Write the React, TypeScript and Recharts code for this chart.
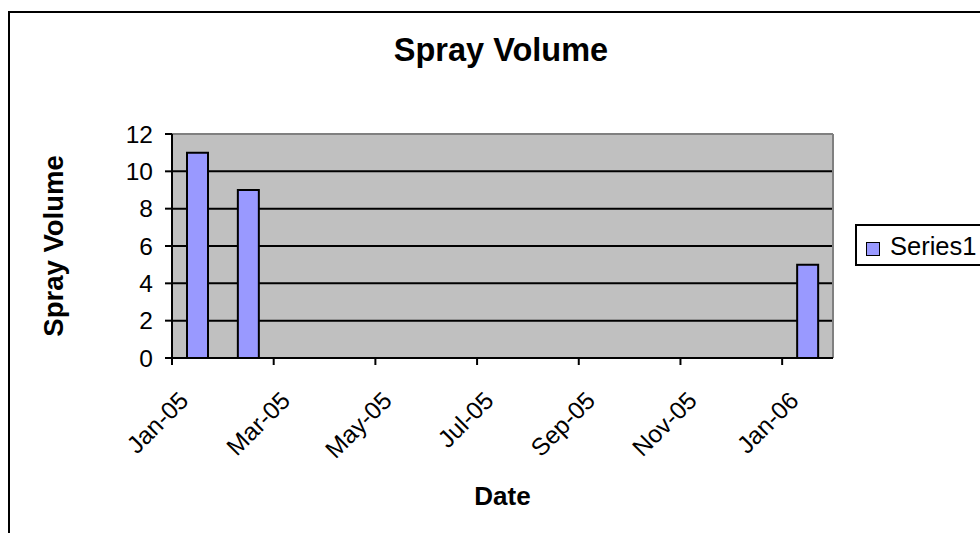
import React from 'react';
import { BarChart, Bar, XAxis, YAxis, CartesianGrid, Legend, ReferenceLine, Label } from 'recharts';

const FONT = '"Liberation Sans", Arial, sans-serif';

const months = ['Jan-05', 'Feb-05', 'Mar-05', 'Apr-05', 'May-05', 'Jun-05', 'Jul-05', 'Aug-05', 'Sep-05', 'Oct-05', 'Nov-05', 'Dec-05', 'Jan-06'];
const sprayDates = ['Jan-05', 'Feb-05', 'Jan-06'];
const sprayVolumes = [11, 9, 5];
const xTickMonths = ['Jan-05', 'Mar-05', 'May-05', 'Jul-05', 'Sep-05', 'Nov-05', 'Jan-06'];
const yTicks = [0, 2, 4, 6, 8, 10, 12];
const gridValues = [2, 4, 6, 8, 10];

const data = sprayDates.map((d, i) => ({ pos: months.indexOf(d) + 0.5, value: sprayVolumes[i] }));
const xTicks = xTickMonths.map((m) => months.indexOf(m));

const XTick = (props: any) => {
  const { x, y, payload } = props;
  const ax = x + 18;
  const ay = y + 35;
  return (
    <text x={ax} y={ay} transform={`rotate(-45, ${ax}, ${ay})`} textAnchor="end" fontSize={24.5} fontFamily={FONT} fill="#000">
      {months[payload.value]}
    </text>
  );
};

const LegendBox = (props: any) => {
  const item = (props.payload || [])[0];
  return (
    <div style={{ position: 'relative', boxSizing: 'border-box', width: 160, height: 42, border: '2px solid #000', background: '#fff', fontFamily: FONT }}>
      <span style={{ position: 'absolute', left: 9, top: 16, width: 14, height: 14, boxSizing: 'border-box', background: '#9999FF', border: '1.5px solid #000' }} />
      <span style={{ position: 'absolute', left: 33, top: 8, fontSize: 25.5, lineHeight: '25px', color: '#000', whiteSpace: 'nowrap' }}>
        {item ? item.value : 'Series1'}
      </span>
    </div>
  );
};

export default function App() {
  return (
    <div style={{ position: 'absolute', left: 0, top: 0, width: 980, height: 533, overflow: 'hidden', background: '#fff', fontFamily: FONT }}>
      <div style={{ position: 'absolute', left: 8, top: 11, width: 1000, height: 600, border: '2px solid #000', boxSizing: 'border-box' }} />
      <div style={{ position: 'absolute', left: 0, top: 0 }}>
        <BarChart width={980} height={533} data={data} margin={{ top: 134, right: 147, bottom: 0, left: 0 }}>
          <CartesianGrid vertical={false} horizontalValues={gridValues} stroke="#000" strokeWidth={2} fill="#C0C0C0" fillOpacity={1} />
          <ReferenceLine y={12} stroke="#808080" strokeWidth={2} />
          <ReferenceLine x={13} stroke="#808080" strokeWidth={2} />
          <XAxis
            type="number"
            dataKey="pos"
            domain={[0, months.length]}
            ticks={xTicks}
            interval={0}
            height={175}
            tick={<XTick />}
            tickSize={7}
            axisLine={{ stroke: '#000', strokeWidth: 2 }}
            tickLine={{ stroke: '#000', strokeWidth: 2 }}
            allowDecimals={false}
          >
            <Label
              content={(p: any) => {
                const vb = p.viewBox || { x: 172, y: 358, width: 661 };
                return (
                  <text x={vb.x + vb.width / 2} y={vb.y + 147} textAnchor="middle" fontSize={26} fontWeight="bold" fontFamily={FONT} fill="#000">
                    Date
                  </text>
                );
              }}
            />
          </XAxis>
          <YAxis
            domain={[0, 12]}
            ticks={yTicks}
            interval={0}
            width={172}
            tickSize={7}
            tickMargin={12}
            tick={{ fontSize: 24.5, fontFamily: FONT, fill: '#000' }}
            axisLine={{ stroke: '#000', strokeWidth: 2 }}
            tickLine={{ stroke: '#000', strokeWidth: 2 }}
          >
            <Label
              content={(p: any) => {
                const vb = p.viewBox || { x: 0, y: 134, height: 224 };
                const cx = vb.x + 53;
                const cy = vb.y + vb.height / 2;
                return (
                  <text x={cx} y={cy} transform={`rotate(-90, ${cx}, ${cy})`} textAnchor="middle" dominantBaseline="central" fontSize={27.5} fontWeight="bold" fontFamily={FONT} fill="#000">
                    Spray Volume
                  </text>
                );
              }}
            />
          </YAxis>
          <Legend
            layout="horizontal"
            verticalAlign="middle"
            align="center"
            content={<LegendBox />}
            wrapperStyle={{ left: 855, top: 224, width: 200, height: 50 }}
          />
          <Bar dataKey="value" name="Series1" fill="#9999FF" stroke="#000" strokeWidth={2} barSize={21} isAnimationActive={false} />
        </BarChart>
      </div>
      <svg width={980} height={533} style={{ position: 'absolute', left: 0, top: 0, pointerEvents: 'none' }}>
        <text x={501} y={61} textAnchor="middle" fontSize={32.5} fontWeight="bold" fontFamily={FONT} fill="#000">
          Spray Volume
        </text>
      </svg>
    </div>
  );
}
